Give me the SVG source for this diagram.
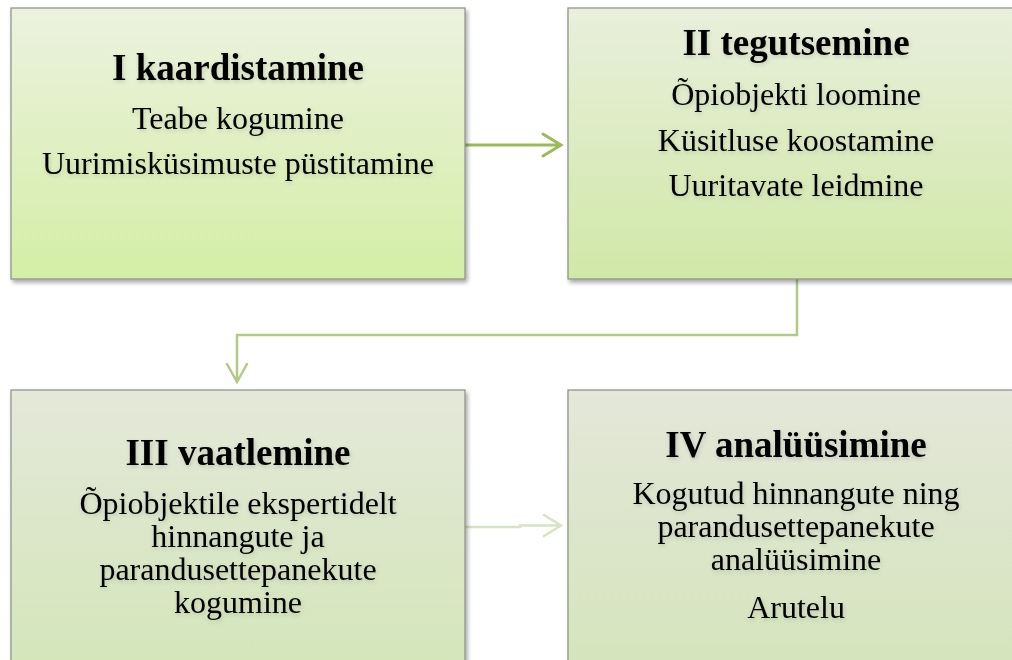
<svg xmlns="http://www.w3.org/2000/svg" width="1012" height="660" viewBox="0 0 1012 660">
<style>
.box{stroke:#8a8f84;stroke-width:1.2;filter:url(#sh)}
.t{font-family:"Liberation Serif","Times New Roman",serif;fill:#000;text-anchor:middle;filter:url(#ts)}
.h{font-weight:bold;font-size:37px}
.b{font-size:32px}
.c{fill:none;stroke-linecap:round;stroke-linejoin:miter}
</style>
<defs>
<linearGradient id="g1" x1="0" y1="0" x2="0" y2="1"><stop offset="0" stop-color="#ecf2df"/><stop offset="1" stop-color="#d4eea6"/></linearGradient>
<linearGradient id="g2" x1="0" y1="0" x2="0" y2="1"><stop offset="0" stop-color="#e9efdc"/><stop offset="1" stop-color="#d0e8a7"/></linearGradient>
<linearGradient id="g3" x1="0" y1="0" x2="0" y2="1"><stop offset="0" stop-color="#e4e8d9"/><stop offset="1" stop-color="#d3e6b8"/></linearGradient>
<linearGradient id="g4" x1="0" y1="0" x2="0" y2="1"><stop offset="0" stop-color="#e4e7d9"/><stop offset="1" stop-color="#d4e4bb"/></linearGradient>
<filter id="sh" x="-5%" y="-5%" width="115%" height="115%"><feDropShadow dx="2" dy="3" stdDeviation="2" flood-color="#000" flood-opacity="0.35"/></filter>
<filter id="ts" x="-10%" y="-30%" width="120%" height="160%"><feDropShadow dx="1" dy="2" stdDeviation="2" flood-color="#000" flood-opacity="0.15"/></filter>
</defs>
<g id="connectors">
<path class="c" d="M465 145 H561 M543 134 L561 145 L543 156" stroke="#9bbb59" stroke-width="3"/>
<path class="c" d="M797 279 V335 H237 V381 M227 364 L237 382 L247 364" stroke="#b1cb86" stroke-width="2.5"/>
<path class="c" d="M465 527 H520 V525.5 H561 M544 515 L561 525.5 L544 536" stroke="#d6e4c2" stroke-width="2.5"/>
</g>
<g id="node1">
<rect class="box" x="11" y="8" width="454" height="271" fill="url(#g1)"/>
<text class="t h" x="238" y="80">I kaardistamine</text>
<text class="t b" x="238" y="129">Teabe kogumine</text>
<text class="t b" x="238" y="174">Uurimisküsimuste püstitamine</text>
</g>
<g id="node2">
<rect class="box" x="568" y="8" width="454" height="271" fill="url(#g2)"/>
<text class="t h" x="796" y="55">II tegutsemine</text>
<text class="t b" x="796" y="105">Õpiobjekti loomine</text>
<text class="t b" x="796" y="151">Küsitluse koostamine</text>
<text class="t b" x="796" y="196">Uuritavate leidmine</text>
</g>
<g id="node3">
<rect class="box" x="11" y="390" width="454" height="290" fill="url(#g3)"/>
<text class="t h" x="238" y="465">III vaatlemine</text>
<text class="t b" x="238" y="514">Õpiobjektile ekspertidelt</text>
<text class="t b" x="238" y="547">hinnangute ja</text>
<text class="t b" x="238" y="580">parandusettepanekute</text>
<text class="t b" x="238" y="613">kogumine</text>
</g>
<g id="node4">
<rect class="box" x="568" y="390" width="454" height="290" fill="url(#g4)"/>
<text class="t h" x="796" y="457">IV analüüsimine</text>
<text class="t b" x="796" y="504">Kogutud hinnangute ning</text>
<text class="t b" x="796" y="537">parandusettepanekute</text>
<text class="t b" x="796" y="570">analüüsimine</text>
<text class="t b" x="796" y="618">Arutelu</text>
</g>
</svg>
